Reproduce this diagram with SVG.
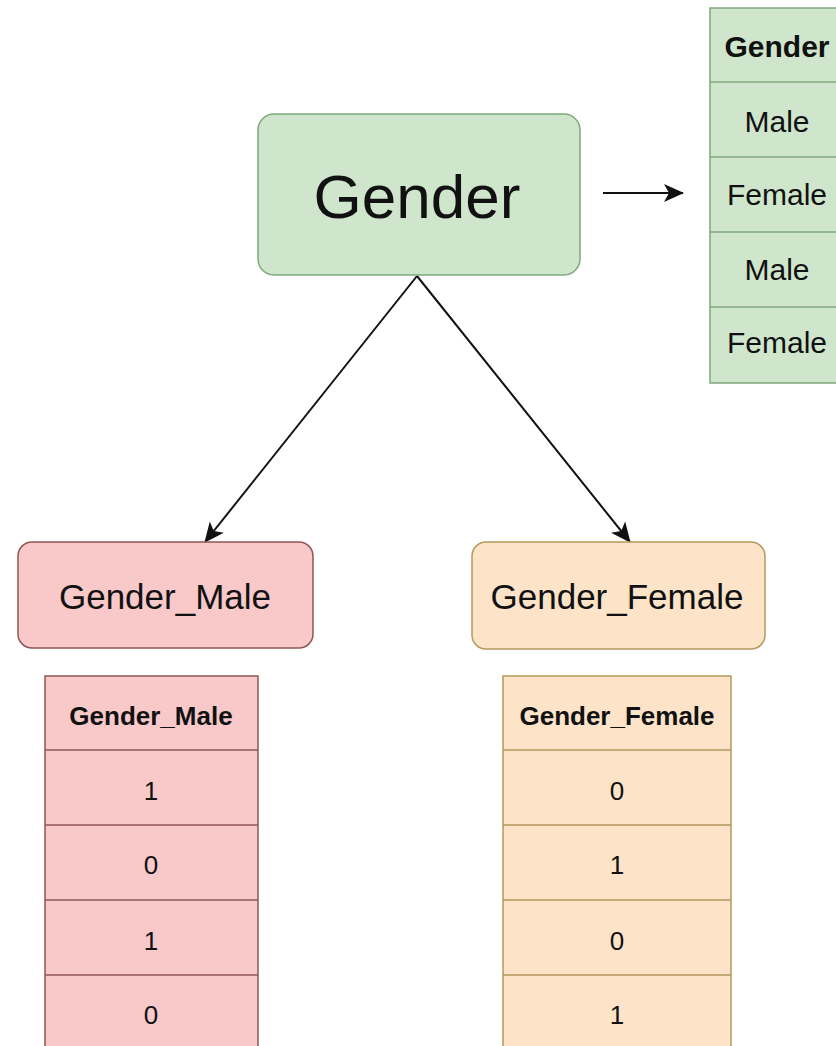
<svg xmlns="http://www.w3.org/2000/svg" width="836" height="1046" viewBox="0 0 836 1046">
<style>
.t{font-family:"Liberation Sans",Arial,sans-serif;fill:#111;text-anchor:middle}
.b{font-weight:bold}
.g{fill:#cfe6cd;stroke:#7fa87a;stroke-width:1.5}
.r{fill:#f8c9c8;stroke:#8f5654;stroke-width:1.5}
.o{fill:#fde3c8;stroke:#b5995c;stroke-width:1.5}
.c{stroke:#111;stroke-width:2;fill:none}
</style>
<defs>
<marker id="ah" viewBox="0 0 10 10" refX="9.5" refY="5" markerWidth="20" markerHeight="20" orient="auto" markerUnits="userSpaceOnUse">
<path d="M0,0.5 L10,5 L0,9.5 L2.5,5 Z" fill="#111"/>
</marker>
</defs>
<rect width="836" height="1046" fill="#fff"/>
<g id="connectors">
<line class="c" x1="603" y1="193" x2="683" y2="193" marker-end="url(#ah)"/>
<line class="c" x1="417" y1="276" x2="205" y2="542" marker-end="url(#ah)"/>
<line class="c" x1="417" y1="276" x2="630" y2="542" marker-end="url(#ah)"/>
</g>
<g id="gender">
<rect class="g" x="258" y="114" width="322" height="161" rx="16"/>
<text class="t" x="417" y="218" font-size="62">Gender</text>
</g>
<g id="gender-table">
<rect class="g" x="710" y="8" width="136" height="375"/>
<line class="g" x1="710" y1="82" x2="846" y2="82"/>
<line class="g" x1="710" y1="157" x2="846" y2="157"/>
<line class="g" x1="710" y1="232" x2="846" y2="232"/>
<line class="g" x1="710" y1="307" x2="846" y2="307"/>
<text class="t b" x="777" y="57" font-size="30">Gender</text>
<text class="t" x="777" y="132" font-size="30">Male</text>
<text class="t" x="777" y="205" font-size="30">Female</text>
<text class="t" x="777" y="280" font-size="30">Male</text>
<text class="t" x="777" y="353" font-size="30">Female</text>
</g>
<g id="gender-male">
<rect class="r" x="18" y="542" width="295" height="106" rx="14"/>
<text class="t" x="165" y="609" font-size="35">Gender_Male</text>
</g>
<g id="gender-female">
<rect class="o" x="472" y="542" width="293" height="107" rx="14"/>
<text class="t" x="617" y="609" font-size="35">Gender_Female</text>
</g>
<g id="gender-male-table">
<rect class="r" x="45" y="676" width="213" height="380"/>
<line class="r" x1="45" y1="750" x2="258" y2="750"/>
<line class="r" x1="45" y1="825" x2="258" y2="825"/>
<line class="r" x1="45" y1="900" x2="258" y2="900"/>
<line class="r" x1="45" y1="975" x2="258" y2="975"/>
<text class="t b" x="151" y="725" font-size="26">Gender_Male</text>
<text class="t" x="151" y="800" font-size="26">1</text>
<text class="t" x="151" y="874" font-size="26">0</text>
<text class="t" x="151" y="950" font-size="26">1</text>
<text class="t" x="151" y="1024" font-size="26">0</text>
</g>
<g id="gender-female-table">
<rect class="o" x="503" y="676" width="228" height="380"/>
<line class="o" x1="503" y1="750" x2="731" y2="750"/>
<line class="o" x1="503" y1="825" x2="731" y2="825"/>
<line class="o" x1="503" y1="900" x2="731" y2="900"/>
<line class="o" x1="503" y1="975" x2="731" y2="975"/>
<text class="t b" x="617" y="725" font-size="26">Gender_Female</text>
<text class="t" x="617" y="800" font-size="26">0</text>
<text class="t" x="617" y="874" font-size="26">1</text>
<text class="t" x="617" y="950" font-size="26">0</text>
<text class="t" x="617" y="1024" font-size="26">1</text>
</g>
</svg>
